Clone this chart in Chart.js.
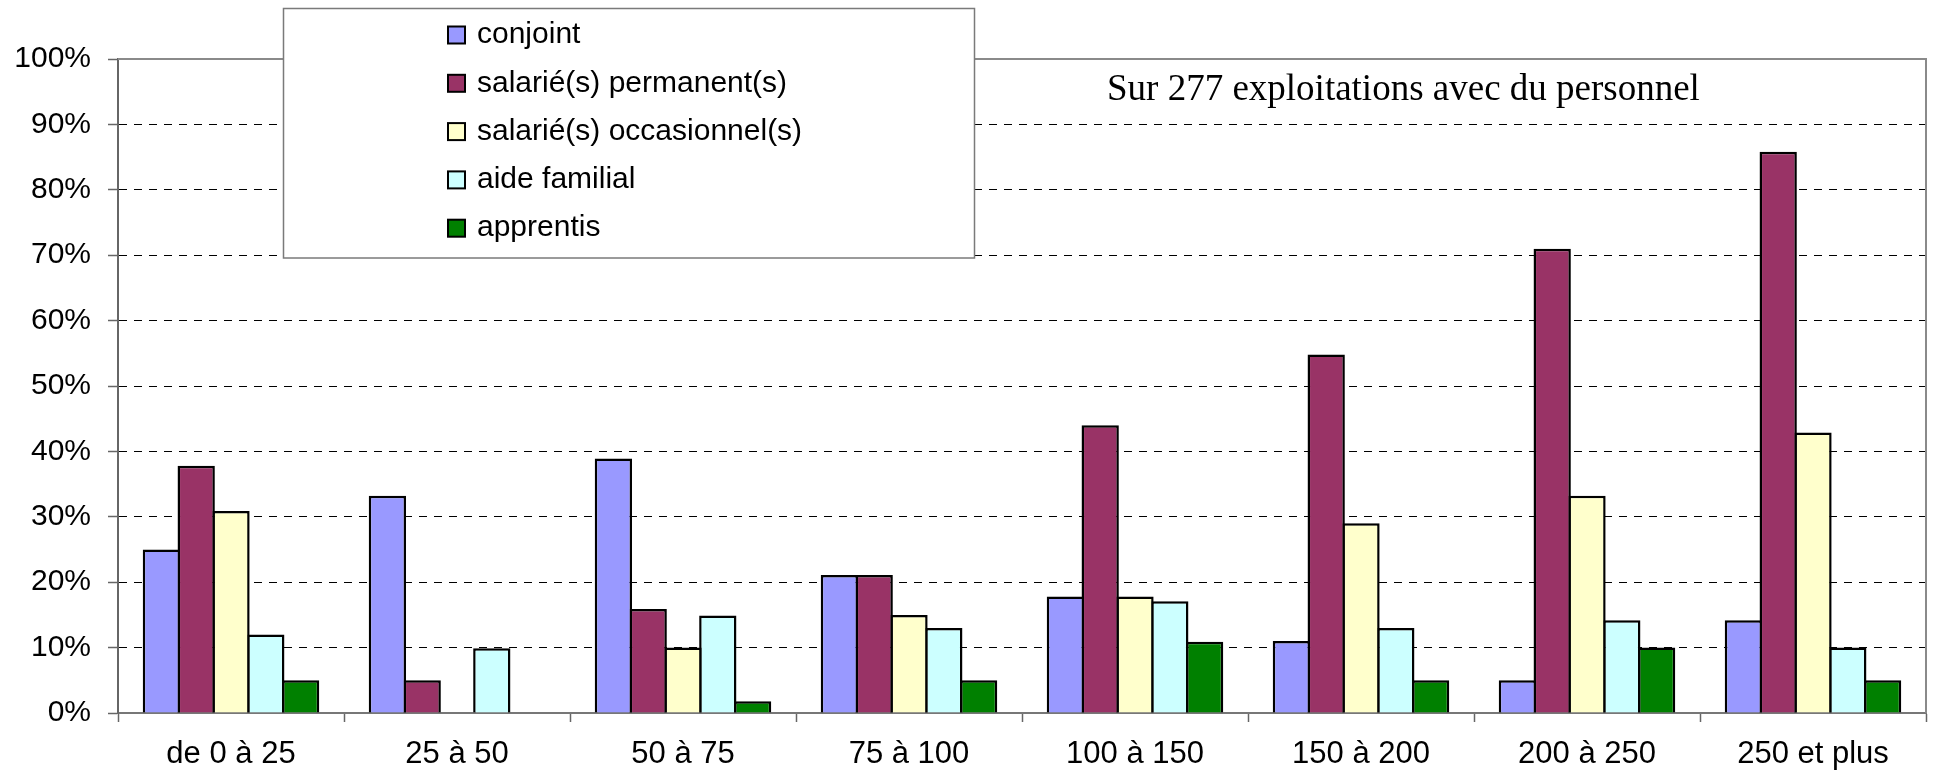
<!DOCTYPE html>
<html>
<head>
<meta charset="utf-8">
<script src="https://cdn.jsdelivr.net/npm/chart.js@4/dist/chart.umd.min.js"></script>
<style>
  html, body { margin: 0; padding: 0; background: #ffffff; }
  #wrap { width: 1934px; height: 775px; }
</style>
</head>
<body>
<div id="wrap"><canvas id="chart" width="1934" height="775"></canvas></div>
<script>
// Farm size classes (ha)
const categories = ['de 0 à 25', '25 à 50', '50 à 75', '75 à 100', '100 à 150', '150 à 200', '200 à 250', '250 et plus'];

// Share of farms (%) employing each kind of staff
const conjoint      = [25.0, 33.2, 38.9, 21.1, 17.8, 11.0,  5.0, 14.2];
const permanents    = [37.8,  5.0, 15.9, 21.1, 44.0, 54.8, 71.0, 85.8];
const occasionnels  = [30.9,  0.0, 10.0, 15.0, 17.8, 29.0, 33.2, 42.9];
const aideFamilial  = [12.0,  9.9, 14.9, 13.0, 17.1, 13.0, 14.2, 10.0];
const apprentis     = [ 5.0,  0.0,  1.8,  5.0, 10.9,  5.0, 10.0,  5.0];

const seriesNames = ['conjoint', 'salarié(s) permanent(s)', 'salarié(s) occasionnel(s)', 'aide familial', 'apprentis'];
const seriesValues = [conjoint, permanents, occasionnels, aideFamilial, apprentis];
const seriesColors = ['#9999FF', '#993366', '#FFFFCC', '#CCFFFF', '#008000'];

const yTickValues = [0, 10, 20, 30, 40, 50, 60, 70, 80, 90, 100];
const noteText = 'Sur 277 exploitations avec du personnel';

const SANS = "'Liberation Sans', Arial, Helvetica, sans-serif";
const SERIF = "'Liberation Serif', 'Times New Roman', serif";

// Gray frame on the top and right sides of the plot area
const plotFrame = {
  id: 'plotFrame',
  beforeDatasetsDraw(chart) {
    const { ctx, chartArea: a } = chart;
    ctx.save();
    ctx.strokeStyle = '#8a8a8a';
    ctx.lineWidth = 2;
    ctx.beginPath();
    ctx.moveTo(a.left, a.top);
    ctx.lineTo(a.right, a.top);
    ctx.lineTo(a.right, a.bottom);
    ctx.stroke();
    ctx.restore();
  }
};

// Boxed legend overlapping the top of the plot, plus the sample note
const boxLegend = {
  id: 'boxLegend',
  afterDraw(chart, args, opts) {
    const { ctx } = chart;
    ctx.save();
    ctx.fillStyle = '#ffffff';
    ctx.fillRect(opts.x, opts.y, opts.w, opts.h);
    ctx.strokeStyle = '#7a7a7a';
    ctx.lineWidth = 1.5;
    ctx.strokeRect(opts.x, opts.y, opts.w, opts.h);
    ctx.font = '30px ' + SANS;
    ctx.textBaseline = 'middle';
    ctx.textAlign = 'left';
    chart.data.datasets.forEach((ds, i) => {
      const cy = opts.firstRow + i * opts.rowGap;
      ctx.fillStyle = ds.backgroundColor;
      ctx.fillRect(opts.swatchX, cy - opts.swatch / 2, opts.swatch, opts.swatch);
      ctx.strokeStyle = '#000';
      ctx.lineWidth = 2;
      ctx.strokeRect(opts.swatchX, cy - opts.swatch / 2, opts.swatch, opts.swatch);
      ctx.fillStyle = '#000';
      ctx.fillText(ds.label, opts.swatchX + opts.swatch + 12, cy);
    });
    ctx.font = '37px ' + SERIF;
    ctx.textBaseline = 'alphabetic';
    ctx.fillStyle = '#000';
    ctx.fillText(noteText, opts.noteX, opts.noteY);
    ctx.restore();
  }
};

new Chart(document.getElementById('chart'), {
  type: 'bar',
  data: {
    labels: categories,
    datasets: seriesNames.map((name, i) => ({
      label: name,
      data: seriesValues[i],
      backgroundColor: seriesColors[i],
      borderColor: '#000000',
      borderWidth: (c) => (c.raw ? 2.5 : 0),
      borderSkipped: 'start',
      categoryPercentage: 0.77,
      barPercentage: 1.072
    }))
  },
  options: {
    responsive: false,
    animation: false,
    devicePixelRatio: 1,
    layout: { padding: { top: 59, right: 8, left: 0, bottom: 0 } },
    plugins: {
      legend: { display: false },
      tooltip: { enabled: false },
      boxLegend: {
        x: 283.5, y: 8.5, w: 691, h: 249.5,
        swatchX: 448, swatch: 17, firstRow: 35, rowGap: 48.3,
        noteX: 1107, noteY: 100
      }
    },
    scales: {
      x: {
        offset: true,
        grid: {
          offset: true,
          drawOnChartArea: false,
          tickLength: 9,
          tickColor: '#666666',
          tickWidth: 1.5
        },
        border: { color: '#777777', width: 2 },
        ticks: {
          color: '#000',
          font: { family: SANS, size: 31 },
          padding: 14,
          maxRotation: 0,
          autoSkip: false
        },
        afterFit(scale) { scale.height = 62; }
      },
      y: {
        min: 0,
        max: 100,
        afterBuildTicks(scale) { scale.ticks = yTickValues.map(v => ({ value: v })); },
        grid: {
          color: (c) => (c.tick && (c.tick.value === 0 || c.tick.value === 100)) ? 'rgba(0,0,0,0)' : '#000000',
          lineWidth: 1,
          borderDash: [8, 7],
          tickLength: 10,
          tickColor: '#666666',
          tickWidth: 1.5
        },
        border: { color: '#666666', width: 2, dash: [8, 7] },
        ticks: {
          color: '#000',
          font: { family: SANS, size: 30 },
          padding: 17,
          callback: (v) => v + '%'
        },
        afterFit(scale) { scale.width = 118; }
      }
    }
  },
  plugins: [plotFrame, boxLegend]
});
</script>
</body>
</html>
